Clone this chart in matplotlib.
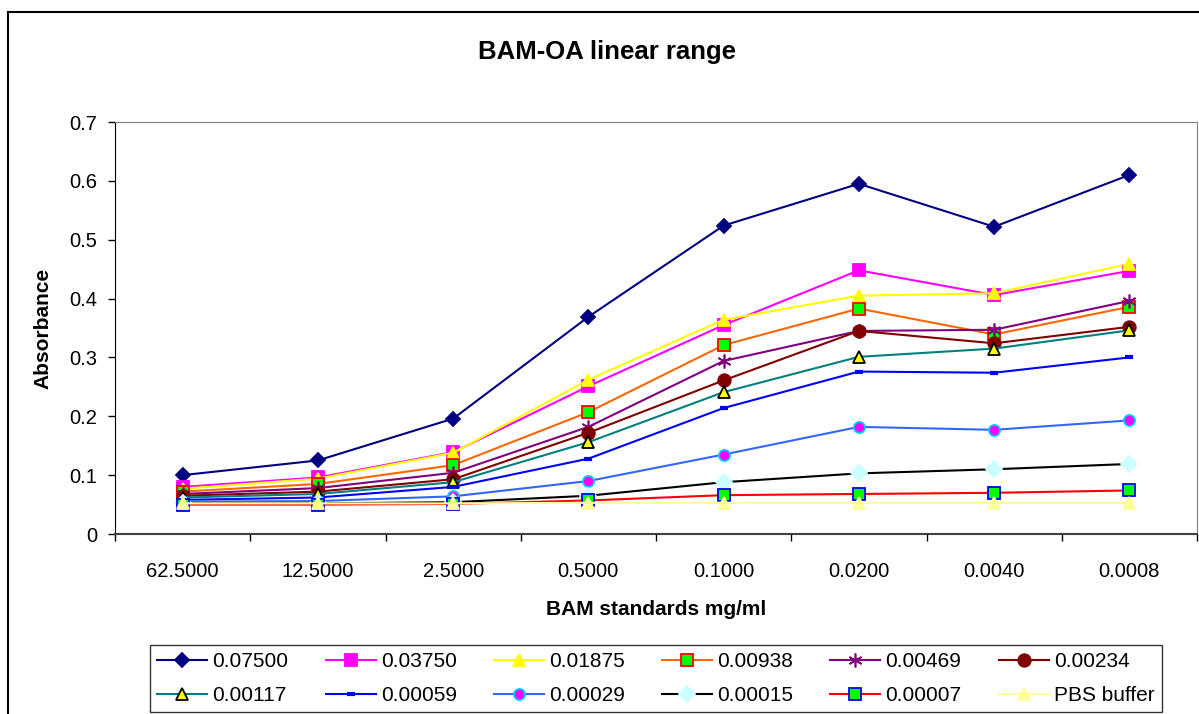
import matplotlib
matplotlib.use("Agg")
import matplotlib.pyplot as plt
import matplotlib.patches as mpatches

plt.rcParams['font.family'] = ['Liberation Sans', 'DejaVu Sans']

categories = ["62.5000", "12.5000", "2.5000", "0.5000", "0.1000", "0.0200", "0.0040", "0.0008"]

s_07500 = [0.100, 0.125, 0.196, 0.369, 0.524, 0.595, 0.522, 0.610]
s_03750 = [0.080, 0.096, 0.139, 0.251, 0.355, 0.448, 0.406, 0.447]
s_01875 = [0.077, 0.094, 0.138, 0.262, 0.364, 0.405, 0.409, 0.459]
s_00938 = [0.072, 0.085, 0.117, 0.207, 0.321, 0.383, 0.339, 0.386]
s_00469 = [0.068, 0.078, 0.104, 0.182, 0.294, 0.345, 0.347, 0.396]
s_00234 = [0.065, 0.072, 0.093, 0.172, 0.261, 0.345, 0.324, 0.352]
s_00117 = [0.062, 0.068, 0.088, 0.156, 0.241, 0.301, 0.315, 0.346]
s_00059 = [0.058, 0.062, 0.080, 0.128, 0.214, 0.276, 0.274, 0.300]
s_00029 = [0.055, 0.056, 0.064, 0.090, 0.135, 0.182, 0.177, 0.193]
s_00015 = [0.052, 0.052, 0.054, 0.065, 0.088, 0.103, 0.110, 0.119]
s_00007 = [0.050, 0.050, 0.051, 0.057, 0.066, 0.068, 0.070, 0.074]
s_pbs = [0.052, 0.052, 0.052, 0.053, 0.053, 0.053, 0.053, 0.053]

labels = ["0.07500", "0.03750", "0.01875", "0.00938", "0.00469", "0.00234",
          "0.00117", "0.00059", "0.00029", "0.00015", "0.00007", "PBS buffer"]
series = [s_07500, s_03750, s_01875, s_00938, s_00469, s_00234,
          s_00117, s_00059, s_00029, s_00015, s_00007, s_pbs]

# (line colour, marker, face, edge, size)
styles = [
    ("#000080", "D", "#000080", "#000080", 7),
    ("#FF00FF", "s", "#FF00FF", "#FF00FF", 8),
    ("#FFFF00", "^", "#FFFF00", "#FFFF00", 9),
    ("#FF6600", "s", "#00FF00", "#FF0000", 8),
    ("#800080", (6, 2, 0), "#800080", "#800080", 10),
    ("#800000", "o", "#800000", "#800000", 9),
    ("#008080", "^", "#FFFF00", "#000000", 9),
    ("#0000FF", "_", "#0000FF", "#0000FF", 6),
    ("#3366FF", "o", "#FF00FF", "#00CCFF", 8),
    ("#000000", "D", "#CCFFFF", "#CCFFFF", 8),
    ("#FF0000", "s", "#00FF00", "#0000FF", 8),
    ("#FFFF99", "^", "#FFFF99", "#FFFF99", 9),
]

fig = plt.figure(figsize=(11.99, 7.14), dpi=100)
ax = fig.add_axes([115/1199, 1-534/714, (1197-115)/1199, (534-122)/714])

x = list(range(len(categories)))
handles = []
for lab, ys, (lc, mk, fc, ec, ms) in zip(labels, series, styles):
    mew = 1.3
    if mk == "_":
        mew = 3
    if isinstance(mk, tuple):
        mew = 1.2
    h, = ax.plot(x, ys, color=lc, lw=1.5, marker=mk, markerfacecolor=fc,
                 markeredgecolor=ec, markersize=ms, markeredgewidth=mew,
                 label=lab, clip_on=False)
    handles.append(h)

ax.set_xlim(-0.5, len(categories)-0.5)
ax.set_ylim(0, 0.7)
ax.set_yticks([0, 0.1, 0.2, 0.3, 0.4, 0.5, 0.6, 0.7])
ax.set_yticklabels(["0", "0.1", "0.2", "0.3", "0.4", "0.5", "0.6", "0.7"])
ax.set_xticks(x)
ax.set_xticklabels(categories)
ax.set_xticks([i - 0.5 for i in range(len(categories)+1)], minor=True)
ax.tick_params(axis='x', which='major', length=0, pad=20, labelsize=14.5)
ax.tick_params(axis='x', which='minor', length=5, width=1, direction='out', color='black')
ax.tick_params(axis='y', length=5, width=1, direction='out', pad=8, labelsize=14.5)

ax.spines['left'].set_color('black')
ax.spines['bottom'].set_color('#404040')
ax.spines['bottom'].set_linewidth(1.5)
ax.spines['top'].set_color('#808080')
ax.spines['right'].set_color('#808080')

ax.set_ylabel("Absorbance", fontsize=15, fontweight='bold', labelpad=12)
ax.set_xlabel("BAM standards mg/ml", fontsize=15, fontweight='bold', labelpad=14)
fig.text(607/1199, 1-52/714, "BAM-OA linear range", fontsize=18.5, fontweight='bold',
         ha='center', va='center')

# legend read row by row (matplotlib fills column by column)
ncol = 6
order = []
for c in range(ncol):
    for r in range(2):
        order.append(r * ncol + c)
leg = fig.legend([handles[i] for i in order], [labels[i] for i in order],
                 loc='upper left', bbox_to_anchor=(150/1199, 1-645/714),
                 ncol=ncol, fontsize=15, frameon=True, fancybox=False,
                 edgecolor='black', handlelength=2.4, handletextpad=0.25,
                 columnspacing=1.78, borderpad=0.35, labelspacing=0.7,
                 borderaxespad=0)
leg.get_frame().set_linewidth(1)

border = mpatches.Rectangle((8/1199, -0.05), 1.2, 1-12/714+0.05, fill=False,
                            edgecolor='black', lw=1.5, transform=fig.transFigure,
                            clip_on=False)
fig.patches.append(border)

fig.savefig("out.png", dpi=100)
